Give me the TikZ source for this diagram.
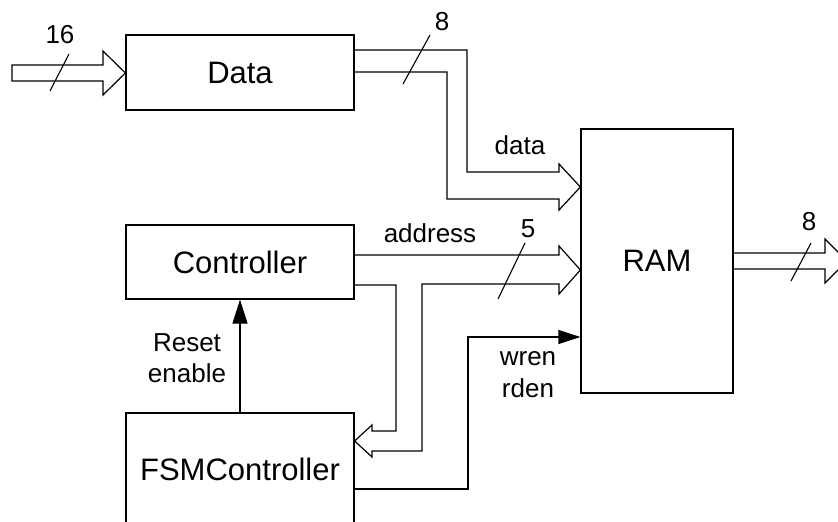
\documentclass[tikz,border=0pt]{standalone}
\usepackage{fontspec}
\setmainfont{Liberation Sans}
\usetikzlibrary{arrows.meta}
\tikzset{
  blk/.style={draw, line width=1.2pt, inner sep=0pt, font=\fontsize{31}{37}\selectfont},
  bus/.style={draw, line width=1.2pt, line join=miter},
  wire/.style={draw, line width=1.2pt},
  tick/.style={draw, line width=1.1pt},
  lbl/.style={inner sep=0pt, anchor=base, font=\fontsize{26}{30}\selectfont},
  ctl/.style={-{Triangle[length=#1]}},
}
\begin{document}
\begin{tikzpicture}[x=1pt, y=-1pt]
\useasboundingbox (0,0) rectangle (838,522);
\clip (0,0) rectangle (838,522);

% blocks
\node[blk, minimum width=228pt, minimum height=75pt] (data) at (240,72.5) {Data};
\node[blk, minimum width=228pt, minimum height=74pt] (ctrl) at (240,262) {Controller};
\node[blk, minimum width=152pt, minimum height=264pt] (ram) at (657,261) {RAM};
\node[blk, minimum width=228pt, minimum height=112pt] (fsm) at (240,469) {FSMController};

% free ends of the external buses
\coordinate (in16) at (12,73);
\coordinate (out8) at (847,261);

% 16-bit input bus into Data
\draw[bus] (in16 |- 0,65) -- (103,65) -- (103,51) -- (data.west |- 0,73)
  -- (103,95) -- (103,81) -- (in16 |- 0,81) -- cycle;
\draw[tick] (50,91) -- (69,54);
\node[lbl] at (60,43) {16};

% 8-bit data bus from Data to RAM
\draw[bus] (data.east |- 0,50) -- (467,50) -- (467,172) -- (559,172) -- (559,164)
  -- (ram.west |- 0,187) -- (559,210) -- (559,199) -- (447,199) -- (447,72)
  -- (data.east |- 0,72);
\draw[tick] (403,84) -- (430,35);
\node[lbl] at (442,30) {8};
\node[lbl] at (520,154) {data};

% 5-bit address bus from Controller to RAM, branching to FSMController
\draw[bus] (ctrl.east |- 0,255) -- (559,255) -- (559,246) -- (ram.west |- 0,270)
  -- (559,294) -- (559,284) -- (422,284) -- (422,451) -- (372,451) -- (372,457)
  -- (fsm.east |- 0,441) -- (372,425) -- (372,431) -- (396,431) -- (396,285)
  -- (ctrl.east |- 0,285);
\draw[tick] (498,299) -- (525,243);
\node[lbl] at (528,237) {5};
\node[lbl] at (430,242) {address};

% 8-bit output bus from RAM
\draw[bus] (ram.east |- 0,253) -- (825,253) -- (825,239) -- (out8)
  -- (825,283) -- (825,269) -- (ram.east |- 0,269);
\draw[tick] (791,281) -- (811,243);
\node[lbl] at (809,230) {8};

% control lines
\draw[wire, -{Triangle[length=24pt, width=15pt]}] (fsm.north) -- (ctrl.south);
\node[lbl] at (187,351) {Reset};
\node[lbl] at (187,382) {enable};

\draw[wire, -{Triangle[length=22pt, width=14pt]}] (fsm.east |- 0,489) -- (468,489)
  -- (468,337) -- (ram.west |- 0,337);
\node[lbl] at (528,365) {wren};
\node[lbl] at (528,397) {rden};
\end{tikzpicture}
\end{document}
